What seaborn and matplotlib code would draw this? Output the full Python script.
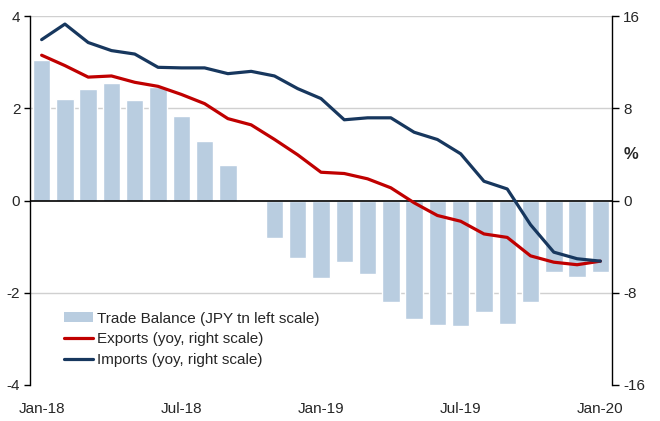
import numpy as np
import pandas as pd
import matplotlib
matplotlib.use("Agg")
import matplotlib.pyplot as plt
import seaborn as sns
from matplotlib.patches import Patch
from matplotlib.lines import Line2D

# ==========================================
# DATA
# ==========================================

months = pd.date_range("2018-01-01", "2020-01-01", freq="MS").strftime("%b-%y").tolist()

trade_balance = [3.04, 2.21, 2.41, 2.54, 2.17, 2.47, 1.84, 1.30, 0.76, 0.02,
                 -0.82, -1.24, -1.69, -1.33, -1.60, -2.19, -2.56, -2.70, -2.73,
                 -2.42, -2.68, -2.21, -1.55, -1.66, -1.55]

exports_yoy = [12.6, 11.7, 10.7, 10.8, 10.25, 9.9, 9.2, 8.4, 7.1, 6.56,
               5.3, 3.96, 2.45, 2.34, 1.88, 1.1, -0.2, -1.3, -1.8,
               -2.9, -3.2, -4.8, -5.35, -5.57, -5.26]

imports_yoy = [13.95, 15.3, 13.7, 13.0, 12.7, 11.55, 11.5, 11.5, 11.0, 11.2,
               10.8, 9.7, 8.84, 7.0, 7.17, 7.17, 5.92, 5.29, 4.05,
               1.67, 1.0, -2.1, -4.48, -5.05, -5.26]

tick_labels = ["Jan-18", "Jul-18", "Jan-19", "Jul-19", "Jan-20"]

df = pd.DataFrame({
    "month": months,
    "pos": np.arange(len(months)),
    "balance": trade_balance,
    "exports": exports_yoy,
    "imports": imports_yoy,
})

# ==========================================
# STYLE
# ==========================================

sns.set_style("white")
plt.rcParams["font.family"] = ["Liberation Sans", "DejaVu Sans"]
plt.rcParams["font.size"] = 11

bar_color = "#B9CDE0"
red = "#C00000"
navy = "#17375E"

fig = plt.figure(figsize=(6.6, 4.21), dpi=100)
ax = fig.add_axes([30 / 660, 1 - 385 / 421, 582 / 660, 369 / 421])

# ==========================================
# BARS (left scale)
# ==========================================

sns.barplot(
    data=df,
    x="pos",
    y="balance",
    color=bar_color,
    width=0.75,
    saturation=1,
    ax=ax,
    zorder=2
)

for yv in [4, 2, -2]:
    ax.axhline(yv, color="#D0D0D0", lw=1, zorder=0)
ax.axhline(0, color="black", lw=1.2, zorder=3)

ax.set_ylim(-4, 4)
ax.set_yticks([-4, -2, 0, 2, 4])
ax.set_yticklabels(["-4", "-2", "0", "2", "4"])
ax.set_xlim(-0.5, 24.5)
ax.set_xticks([0, 6, 12, 18, 24])
ax.set_xticklabels(tick_labels)
ax.set_xlabel("")
ax.set_ylabel("")
ax.tick_params(axis="x", length=0, pad=12, labelsize=11)
ax.tick_params(axis="y", length=4, width=1, pad=3, labelsize=11,
               left=True, color="black")

for side in ["top", "right", "bottom"]:
    ax.spines[side].set_visible(False)
ax.spines["left"].set_color("black")
ax.spines["left"].set_linewidth(1)

# ==========================================
# LINES (right scale)
# ==========================================

ax2 = ax.twinx()

sns.lineplot(data=df, x="pos", y="exports", color=red, lw=2.3, ax=ax2, zorder=4)
sns.lineplot(data=df, x="pos", y="imports", color=navy, lw=2.3, ax=ax2, zorder=4)

ax2.set_ylim(-16, 16)
ax2.set_yticks([-16, -8, 0, 8, 16])
ax2.set_yticklabels(["-16", "-8", "0", "8", "16"])
ax2.set_xlim(-0.5, 24.5)
ax2.set_ylabel("")
ax2.set_xlabel("")
ax2.tick_params(axis="y", length=5, width=1, pad=3, labelsize=11,
                right=True, color="black")

for side in ["top", "left", "bottom"]:
    ax2.spines[side].set_visible(False)
ax2.spines["right"].set_color("black")
ax2.spines["right"].set_linewidth(1)

ax2.text(1.0326, 0.626, "%", transform=ax2.transAxes, ha="center",
         va="center", fontsize=12, fontweight="bold")

# ==========================================
# LEGEND
# ==========================================

handles = [
    Patch(facecolor=bar_color, edgecolor="none"),
    Line2D([0], [0], color=red, lw=2.3),
    Line2D([0], [0], color=navy, lw=2.3),
]
labels = [
    "Trade Balance (JPY tn left scale)",
    "Exports (yoy, right scale)",
    "Imports (yoy, right scale)",
]
ax2.legend(
    handles,
    labels,
    loc="lower left",
    bbox_to_anchor=(0.058, 0.048),
    frameon=False,
    borderpad=0,
    borderaxespad=0,
    handlelength=1.9,
    handleheight=0.6,
    handletextpad=0.25,
    labelspacing=0.45,
    fontsize=11
)

fig.savefig("out.png", dpi=100)
